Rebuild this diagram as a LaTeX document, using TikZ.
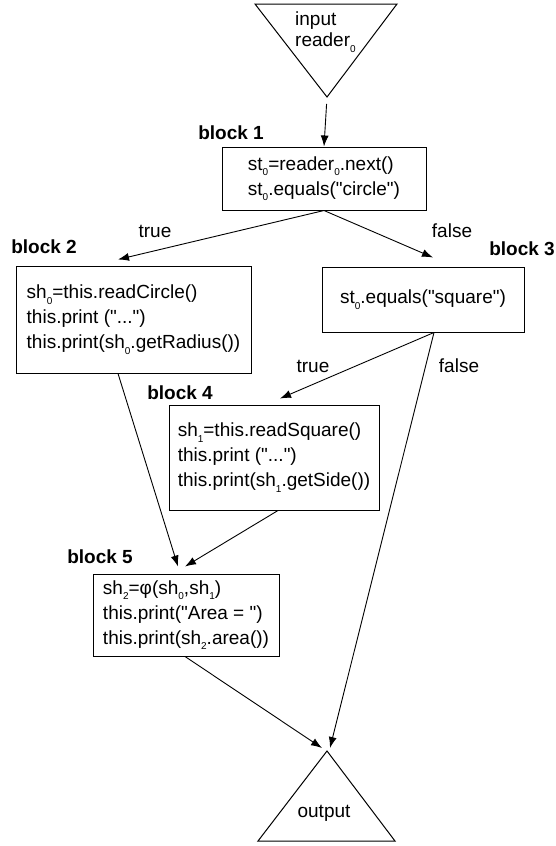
\documentclass[tikz,border=0pt]{standalone}
\usepackage{fontspec}
\setmainfont{Liberation Sans}
\newfontfamily\lsf{Liberation Sans}
\usetikzlibrary{arrows.meta,calc}
\newcommand{\sbs}[1]{\raisebox{-5.5pt}{\fontsize{10}{10}\selectfont #1}}
\begin{document}
\begin{tikzpicture}[x=1pt,y=1pt,
 box/.style={draw,line width=1pt,align=left,font=\lsf\fontsize{19}{25}\selectfont,inner sep=0pt},
 lbl/.style={font=\lsf\fontsize{19}{22}\selectfont,inner sep=0pt},
 blk/.style={font=\lsf\fontsize{19}{22}\selectfont\bfseries,inner sep=0pt},
 tri/.style={line width=1pt,line join=miter},
 arr/.style={line width=0.9pt,-{Latex[length=11pt,width=8pt]}}]
\useasboundingbox (0,0) rectangle (555,-846);
% input triangle
\coordinate (inapex) at (327,-97);
\draw[tri] (255,-4) -- (397,-4) -- (inapex) -- cycle;
\node[lbl,anchor=west,align=left,font=\lsf\fontsize{19}{21}\selectfont] (inp) at (295,-32) {input\\reader\sbs{0}};
% blocks
\node[box,minimum width=204,minimum height=63] (b1) at (324,-178.5) {st\sbs{0}=reader\sbs{0}.next()\\st\sbs{0}.equals("circle")};
\node[box,minimum width=235,minimum height=107] (b2) at (133.5,-319.5) {sh\sbs{0}=this.readCircle()\\this.print ("...")\\this.print(sh\sbs{0}.getRadius())};
\node[box,minimum width=202,minimum height=65] (b3) at (423,-299.5) {st\sbs{0}.equals("square")};
\node[box,minimum width=210,minimum height=105] (b4) at (274,-457.5) {sh\sbs{1}=this.readSquare()\\this.print ("...")\\this.print(sh\sbs{1}.getSide())};
\node[box,minimum width=186,minimum height=82] (b5) at (186,-615) {sh\sbs{2}=φ(sh\sbs{0},sh\sbs{1})\\this.print("Area = ")\\this.print(sh\sbs{2}.area())};
% block labels
\node[blk] (l1) at (231,-133) {block 1};
\node[blk] (l2) at (44,-247) {block 2};
\node[blk] (l3) at (522,-249) {block 3};
\node[blk] (l4) at (180,-393) {block 4};
\node[blk] (l5) at (100,-557) {block 5};
% edge labels
\node[lbl] (t1) at (155,-231) {true};
\node[lbl] (f1) at (452,-231) {false};
\node[lbl] (t2) at (313,-366) {true};
\node[lbl] (f2) at (459,-366) {false};
% output triangle
\coordinate (outapex) at (327,-751);
\draw[tri] (outapex) -- (395,-841) -- (258,-841) -- cycle;
\node[lbl] (outp) at (324,-813) {output};
% connectors
\draw[arr,shorten <=7pt] (inapex) -- (b1.north);
\draw[arr] (b1.south) -- ($(b2.north)+(-15.5,6)$);
\draw[arr] (b1.south) -- ($(b3.north)+(10,9)$);
\draw[arr] ($(b3.south)+(11,0)$) -- ($(b4.north)+(6,6)$);
\draw[arr] ($(b3.south)+(11,0)$) -- ($(outapex)+(3,3)$);
\draw[arr] ($(b2.south)+(-15.5,0)$) -- ($(b5.north)+(-8,7)$);
\draw[arr] ($(b4.south)+(4,0)$) -- ($(b5.north)+(-1,7)$);
\draw[arr] ($(b5.south)+(-1,0)$) -- ($(outapex)+(-5,3)$);
\end{tikzpicture}
\end{document}
